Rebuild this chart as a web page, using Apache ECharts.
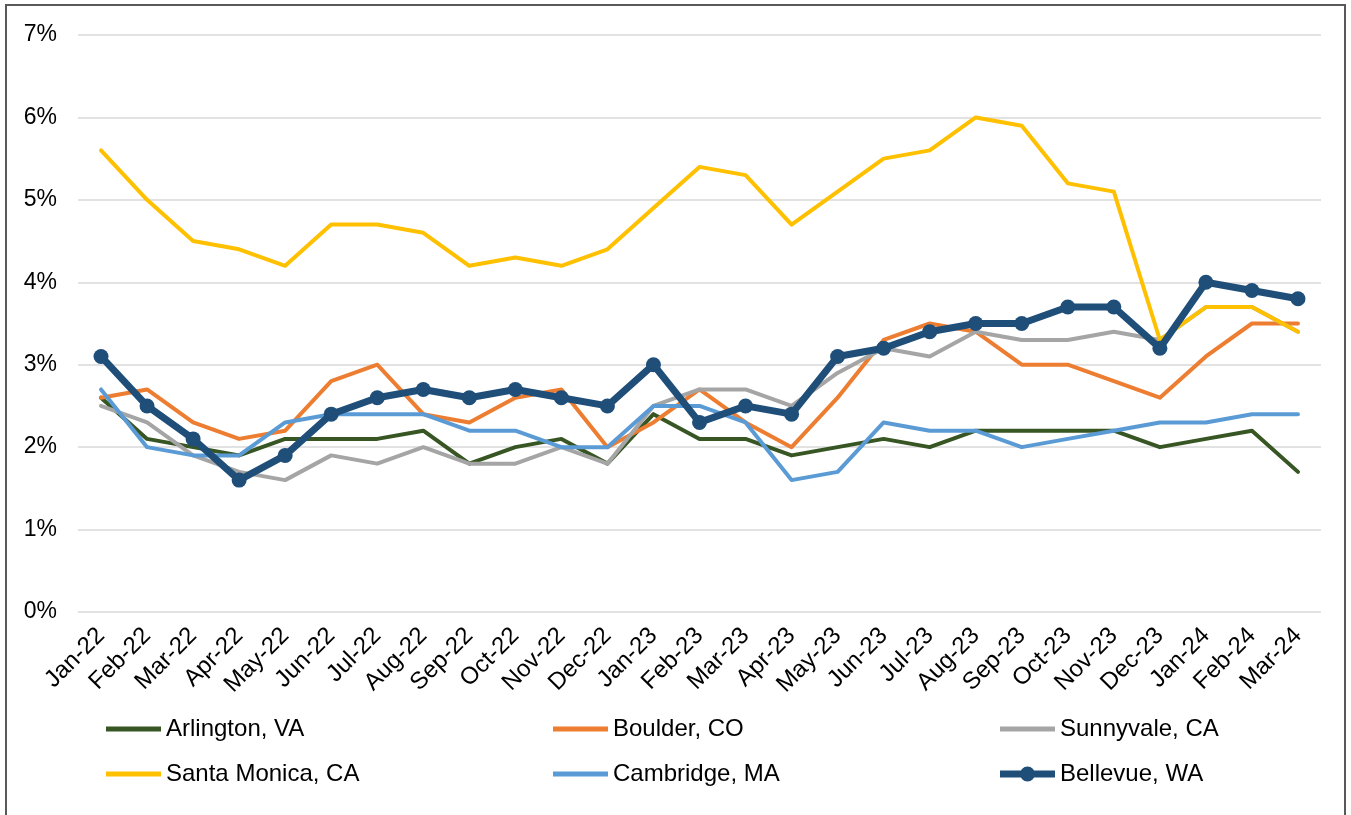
<!DOCTYPE html>
<html>
<head>
<meta charset="utf-8">
<script src="https://cdn.jsdelivr.net/npm/echarts@6/dist/echarts.min.js"></script>
<style>
  html, body { margin: 0; padding: 0; background: #fff; }
  #chart { width: 1351px; height: 815px; }
</style>
</head>
<body>
<div id="chart"></div>
<script>
// months on the x axis
const months = ['Jan-22', 'Feb-22', 'Mar-22', 'Apr-22', 'May-22', 'Jun-22', 'Jul-22', 'Aug-22', 'Sep-22',
  'Oct-22', 'Nov-22', 'Dec-22', 'Jan-23', 'Feb-23', 'Mar-23', 'Apr-23', 'May-23', 'Jun-23', 'Jul-23',
  'Aug-23', 'Sep-23', 'Oct-23', 'Nov-23', 'Dec-23', 'Jan-24', 'Feb-24', 'Mar-24']

// values in percent
const arlington = [2.6, 2.1, 2.0, 1.9, 2.1, 2.1, 2.1, 2.2, 1.8, 2.0, 2.1, 1.8, 2.4, 2.1, 2.1, 1.9, 2.0, 2.1, 2.0, 2.2, 2.2, 2.2, 2.2, 2.0, 2.1, 2.2, 1.7]
const boulder = [2.6, 2.7, 2.3, 2.1, 2.2, 2.8, 3.0, 2.4, 2.3, 2.6, 2.7, 2.0, 2.3, 2.7, 2.3, 2.0, 2.6, 3.3, 3.5, 3.4, 3.0, 3.0, 2.8, 2.6, 3.1, 3.5, 3.5]
const sunnyvale = [2.5, 2.3, 1.9, 1.7, 1.6, 1.9, 1.8, 2.0, 1.8, 1.8, 2.0, 1.8, 2.5, 2.7, 2.7, 2.5, 2.9, 3.2, 3.1, 3.4, 3.3, 3.3, 3.4, 3.3, 3.7, 3.7, 3.4]
const santaMonica = [5.6, 5.0, 4.5, 4.4, 4.2, 4.7, 4.7, 4.6, 4.2, 4.3, 4.2, 4.4, 4.9, 5.4, 5.3, 4.7, 5.1, 5.5, 5.6, 6.0, 5.9, 5.2, 5.1, 3.3, 3.7, 3.7, 3.4]
const cambridge = [2.7, 2.0, 1.9, 1.9, 2.3, 2.4, 2.4, 2.4, 2.2, 2.2, 2.0, 2.0, 2.5, 2.5, 2.3, 1.6, 1.7, 2.3, 2.2, 2.2, 2.0, 2.1, 2.2, 2.3, 2.3, 2.4, 2.4]
const bellevue = [3.1, 2.5, 2.1, 1.6, 1.9, 2.4, 2.6, 2.7, 2.6, 2.7, 2.6, 2.5, 3.0, 2.3, 2.5, 2.4, 3.1, 3.2, 3.4, 3.5, 3.5, 3.7, 3.7, 3.2, 4.0, 3.9, 3.8]

const names = ['Arlington, VA', 'Boulder, CO', 'Sunnyvale, CA', 'Santa Monica, CA', 'Cambridge, MA', 'Bellevue, WA']
const colors = ['#375623', '#ED7D31', '#A5A5A5', '#FFC000', '#5B9BD5', '#1F4E79']
const values = [arlington, boulder, sunnyvale, santaMonica, cambridge, bellevue]

const font = '"Liberation Sans", Arial, sans-serif'
const chart = echarts.init(document.getElementById('chart'))

// legend icons: plain line, and line with a dot for Bellevue
const lineIcon = 'path://M0,0H55V5H0Z'
const dotIcon = 'path://M0,4H55V11H0Z M20,7.5A7.5,7.5 0 1 1 35,7.5A7.5,7.5 0 1 1 20,7.5Z'

// legend: 3 columns x 2 rows, one legend per item
const legendLeft = [106, 553, 1000]
const legendTop = [717, 762]
const legends = names.map((n, i) => ({
  data: [{ name: n, icon: i === 5 ? dotIcon : lineIcon }],
  left: legendLeft[i % 3],
  top: legendTop[Math.floor(i / 3)],
  padding: 0,
  itemWidth: 55,
  itemHeight: i === 5 ? 15 : 5,
  selectedMode: false,
  textStyle: { fontFamily: font, fontSize: 24, color: '#000' }
}))

const series = names.map((n, i) => {
  const isMain = i === 5
  return {
    name: n,
    type: 'line',
    data: values[i],
    symbol: isMain ? 'circle' : 'none',
    symbolSize: 15,
    showSymbol: isMain,
    lineStyle: { color: colors[i], width: isMain ? 7 : 4, cap: 'round', join: 'round' },
    itemStyle: { color: colors[i] },
    z: 2 + i
  }
})

chart.setOption({
  backgroundColor: '#fff',
  animation: false,
  grid: { left: 78, right: 30, top: 35, bottom: 203 },
  legend: legends,
  xAxis: {
    type: 'category',
    data: months,
    boundaryGap: true,
    axisLine: { show: false },
    axisTick: { show: false },
    axisLabel: { rotate: 45, margin: 20, fontFamily: font, fontSize: 24, color: '#000', interval: 0 }
  },
  yAxis: {
    type: 'value',
    min: 0,
    max: 7,
    interval: 1,
    axisLine: { show: false },
    axisTick: { show: false },
    splitLine: { lineStyle: { color: '#d9d9d9', width: 1.5 } },
    axisLabel: { formatter: '{value}%', margin: 21, fontFamily: font, fontSize: 23, color: '#000' }
  },
  graphic: [{
    type: 'rect',
    shape: { x: 6, y: 5, width: 1339, height: 900 },
    style: { fill: 'none', stroke: '#595959', lineWidth: 2 },
    silent: true
  }],
  series
})
</script>
</body>
</html>
